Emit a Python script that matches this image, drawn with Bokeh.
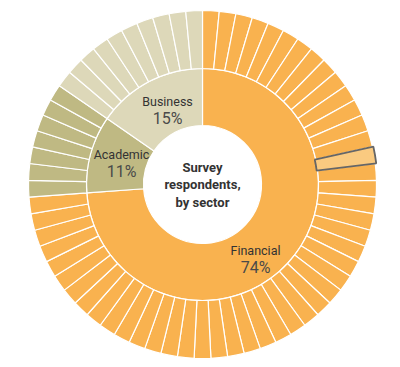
import numpy as np
from bokeh.plotting import figure
from bokeh.models import ColumnDataSource, Range1d
from bokeh.core.properties import value
from bokeh.embed import file_html
from bokeh.resources import INLINE

# ---- data ----
sectors = ["Financial", "Academic", "Business"]
counts = [48, 7, 10]          # respondents per sector (one outer segment each)
pct_labels = ["74%", "11%", "15%"]
colors = ["#F9B24F", "#BFB983", "#DDD8B9"]
highlight_index = 14          # respondent segment that is highlighted
center_lines = ["Survey", "respondents,", "by sector"]

# ---- geometry ----
W, H = 400, 367
cx, cy = 202, 183
r_hole, r_mid, r_out = 59, 116, 174

p = figure(width=W, height=H, output_backend="svg", toolbar_location=None,
           x_range=Range1d(0, W), y_range=Range1d(0, H), min_border=0)
p.axis.visible = False
p.grid.visible = False
p.outline_line_color = None
p.background_fill_color = "white"

total = sum(counts)
step = 360.0 / total

# inner ring (sectors), clockwise from 12 o'clock
starts, ends, cols = [], [], []
acc = 0
for n, c in zip(counts, colors):
    t1, t2 = acc * step, (acc + n) * step
    starts.append(np.radians(90 - t2))
    ends.append(np.radians(90 - t1))
    cols.append(c)
    acc += n
inner = ColumnDataSource(dict(x=[cx] * 3, y=[cy] * 3, s=starts, e=ends, c=cols))
p.annular_wedge(x="x", y="y", inner_radius=r_hole, outer_radius=r_mid,
                start_angle="s", end_angle="e", fill_color="c",
                line_color="white", line_width=1.2, source=inner)

# outer ring: one segment per respondent
os_, oe, oc = [], [], []
for n, c in zip(counts, colors):
    oc += [c] * n
for i in range(total):
    t1, t2 = i * step, (i + 1) * step
    os_.append(np.radians(90 - t2))
    oe.append(np.radians(90 - t1))
outer = ColumnDataSource(dict(x=[cx] * total, y=[cy] * total, s=os_, e=oe, c=oc))
p.annular_wedge(x="x", y="y", inner_radius=r_mid, outer_radius=r_out,
                start_angle="s", end_angle="e", fill_color="c",
                line_color="white", line_width=1.2, source=outer)

# highlighted respondent
h = ColumnDataSource(dict(x=[cx], y=[cy], s=[os_[highlight_index]], e=[oe[highlight_index]]))
p.annular_wedge(x="x", y="y", inner_radius=r_mid - 1, outer_radius=r_out + 1,
                start_angle="s", end_angle="e", fill_color="#FACA80",
                line_color="#666666", line_width=1.8, source=h)

# sector labels (offsets from centre: dx, dy of label block middle)
label_off = {"Financial": (53, -74), "Academic": (-81, 22), "Business": (-35, 75)}
lx, ly1, ly2 = [], [], []
for s in sectors:
    dx, dy = label_off[s]
    lx.append(cx + dx)
    ly1.append(cy + dy + 8.5)
    ly2.append(cy + dy - 8.5)
p.text(x=lx, y=ly1, text=sectors, text_align="center", text_baseline="middle",
       text_font=value("Roboto"), text_font_size="12.5px", text_color="#333333")
p.text(x=lx, y=ly2, text=pct_labels, text_align="center", text_baseline="middle",
       text_font=value("Roboto"), text_font_style="normal", text_font_size="16px",
       text_color="#4a4a4a")

# center title
p.text(x=[cx] * 3, y=[cy + 17, cy, cy - 18], text=center_lines, text_align="center",
       text_baseline="middle", text_font=value("Roboto"), text_font_style="bold",
       text_font_size="13px", text_color="#333333")

open("out.html", "w").write(file_html(p, INLINE))
